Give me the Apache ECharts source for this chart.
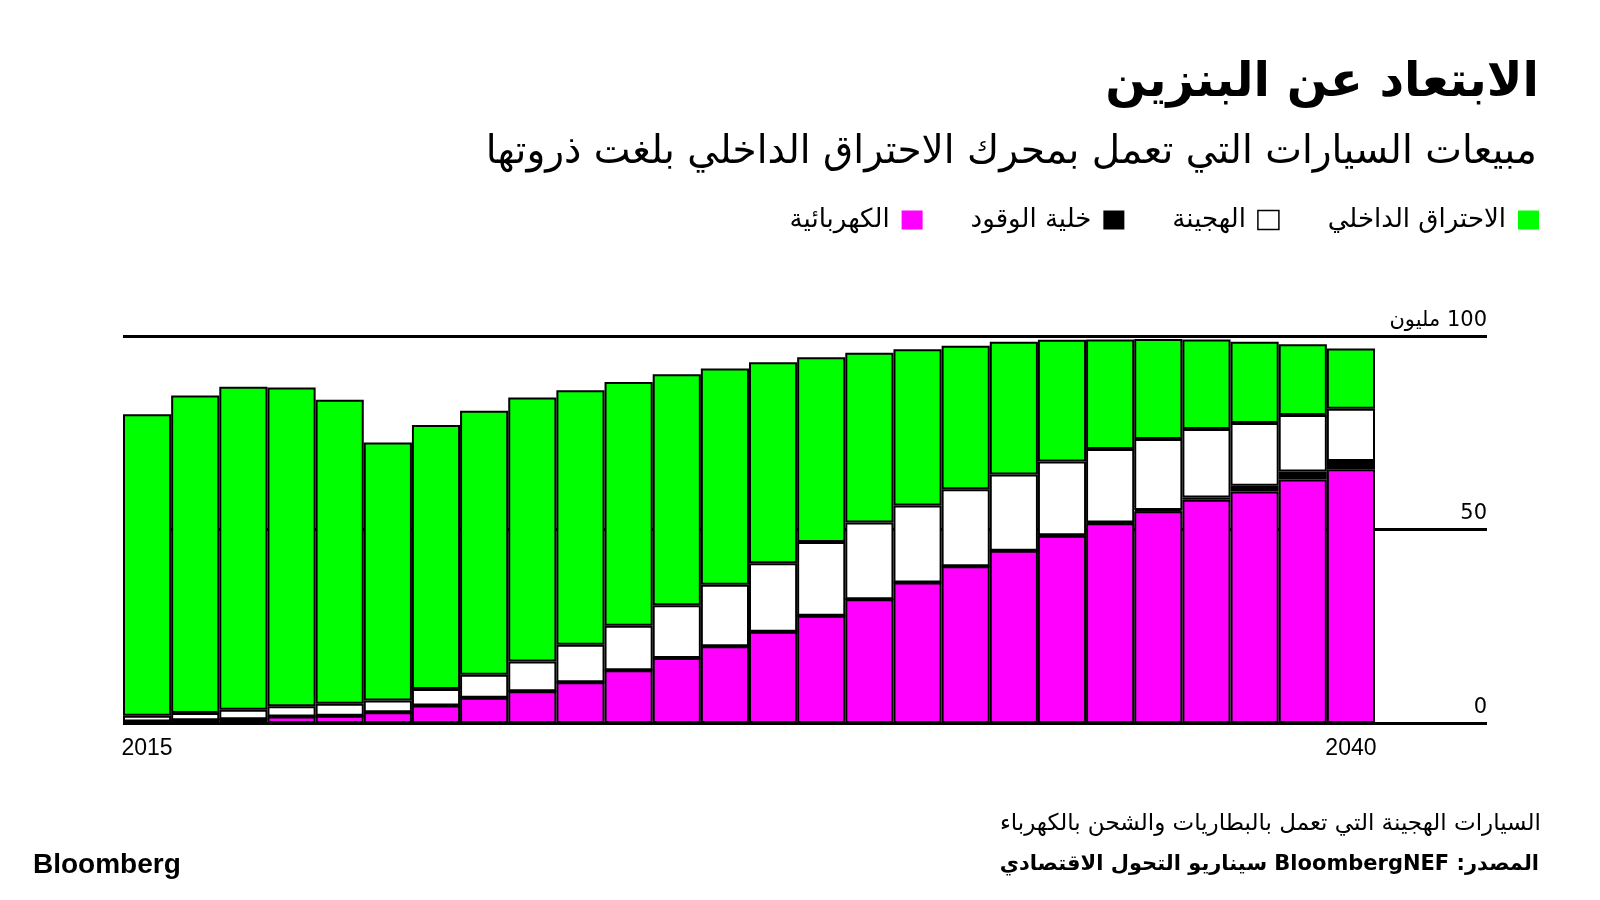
<!DOCTYPE html>
<html lang="ar">
<head>
<meta charset="utf-8">
<script src="https://cdn.jsdelivr.net/npm/echarts@6/dist/echarts.min.js"></script>
<style>
html,body{margin:0;padding:0;background:#fff;overflow:hidden;}
#chart{position:absolute;left:0;top:0;width:1600px;height:900px;}
</style>
</head>
<body>
<div id="chart"></div>
<script>
const years = ['2015','2016','2017','2018','2019','2020','2021','2022','2023','2024','2025','2026','2027','2028','2029','2030','2031','2032','2033','2034','2035','2036','2037','2038','2039','2040'];
const evSales = [0.4,0.7,1.0,1.7,1.9,2.8,4.5,6.5,8.2,10.5,13.6,16.8,19.8,23.6,27.7,32.0,36.3,40.5,44.5,48.4,51.6,54.7,57.7,59.8,62.9,65.6];
const fuelCellSales = [0,0,0,0,0,0,0,0,0,0,0,0,0,0,0,0,0,0,0,0.1,0.2,0.35,0.6,1.5,2.1,2.1];
const hybridSales = [1.5,1.9,2.4,2.6,3.1,3.0,4.3,6.0,7.7,9.7,11.5,13.6,15.9,17.7,19.1,19.8,19.9,19.9,19.7,19.1,19.0,18.35,17.7,16.2,14.6,13.5];
const iceSales = [77.9,82.0,83.5,82.4,78.5,66.7,68.2,68.2,68.2,65.8,63.0,59.7,55.9,51.9,47.7,43.9,40.4,37.1,34.3,31.4,28.3,25.8,23.1,21.0,18.3,15.6];
const seriesNames = ['الكهربائية','خلية الوقود','الهجينة','الاحتراق الداخلي'];
const yTickLabels = {0:'0', 50:'50', 100:'100 مليون'};
const xLabelYears = ['2015','2040'];

const titleText = 'الابتعاد عن البنزين';
const subtitleText = 'مبيعات السيارات التي تعمل بمحرك الاحتراق الداخلي بلغت ذروتها';
const noteText = 'السيارات الهجينة التي تعمل بالبطاريات والشحن بالكهرباء';
const sourceText = 'المصدر: BloombergNEF سيناريو التحول الاقتصادي';
const brandText = 'Bloomberg';

// right-to-left embedding so mixed Arabic/Latin text reads correctly on an LTR canvas
function rtl(s) { return '\u202B' + s + '\u202C'; }

const GREEN = '#00ff00', MAGENTA = '#ff00ff', BLACK = '#000000', WHITE = '#ffffff';
const arabicFont = '"DejaVu Sans", "Noto Sans", sans-serif';
const latinFont = '"Liberation Sans", Arial, sans-serif';

const chart = echarts.init(document.getElementById('chart'), null, {renderer:'canvas', width:1600, height:900});

function barSeries(name, data, color) {
  return {
    name: name, type: 'bar', stack: 'total', data: data,
    xAxisIndex: 0, yAxisIndex: 0,
    barCategoryGap: '0%',
    itemStyle: {color: color, borderColor: BLACK, borderWidth: 2},
    emphasis: {disabled: true}
  };
}

chart.setOption({
  animation: false,
  backgroundColor: '#ffffff',
  title: [
    {text: rtl(titleText), right: 56, top: 55,
     textStyle: {fontFamily: arabicFont, fontWeight: 'bold', fontSize: 48, color: '#000'}},
    {text: rtl(subtitleText), right: 58, top: 128,
     textStyle: {fontFamily: arabicFont, fontWeight: 'normal', fontSize: 39, color: '#000'}},
    {text: rtl(noteText), right: 54, top: 808,
     textStyle: {fontFamily: arabicFont, fontWeight: 'normal', fontSize: 23, color: '#000'}},
    {text: rtl(sourceText), right: 56, top: 849,
     textStyle: {fontFamily: arabicFont, fontWeight: 'bold', fontSize: 21, color: '#000'}},
    {text: brandText, left: 28, top: 846,
     textStyle: {fontFamily: latinFont, fontWeight: 'bold', fontSize: 28, color: '#000'}}
  ],
  legend: {
    right: 56, top: 202, align: 'right', itemGap: 48, itemWidth: 21, itemHeight: 19,
    icon: 'rect',
    textStyle: {fontFamily: arabicFont, fontSize: 26, color: '#000', padding: [0, 7, 0, 0]},
    selectedMode: false,
    data: [
      {name: seriesNames[0], itemStyle: {borderWidth: 0}},
      {name: seriesNames[1], itemStyle: {borderWidth: 0}},
      {name: seriesNames[2], itemStyle: {borderColor: BLACK, borderWidth: 1.5}},
      {name: seriesNames[3], itemStyle: {borderWidth: 0}}
    ]
  },
  grid: [
    {left: 123, right: 225, top: 336, bottom: 177},
    {left: 123, right: 113, top: 336, bottom: 177}
  ],
  xAxis: [
    {type: 'category', gridIndex: 0, data: years,
     axisLine: {show: false}, axisTick: {show: false}, splitLine: {show: false},
     axisLabel: {
       interval: function (i, v) { return xLabelYears.indexOf(v) >= 0; },
       fontFamily: latinFont, fontSize: 23, color: '#000', margin: 14
     }},
    {type: 'value', gridIndex: 1, min: 0, max: 1, show: false}
  ],
  yAxis: [
    {type: 'value', gridIndex: 0, min: 0, max: 100, show: false},
    {type: 'value', gridIndex: 1, min: 0, max: 100, interval: 50, position: 'right',
     axisLine: {show: false}, axisTick: {show: false},
     splitLine: {show: true, lineStyle: {color: BLACK, width: 3}},
     axisLabel: {inside: true, margin: 0, verticalAlign: 'bottom', padding: [0, 0, 5, 0],
       fontFamily: arabicFont, fontSize: 21, color: '#000',
       formatter: function (v) { return yTickLabels[v] !== undefined ? rtl(yTickLabels[v]) : ''; }}}
  ],
  series: [
    barSeries(seriesNames[0], evSales, MAGENTA),
    barSeries(seriesNames[1], fuelCellSales, BLACK),
    barSeries(seriesNames[2], hybridSales, WHITE),
    barSeries(seriesNames[3], iceSales, GREEN)
  ]
});
</script>
</body>
</html>
